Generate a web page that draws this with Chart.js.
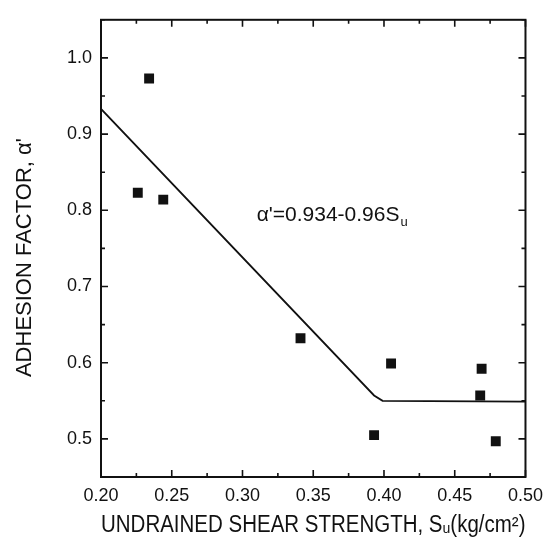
<!DOCTYPE html>
<html>
<head>
<meta charset="utf-8">
<script src="https://cdn.jsdelivr.net/npm/chart.js@4"></script>
<style>
html, body { margin: 0; padding: 0; background: #fff; }
#wrap { width: 551px; height: 549px; }
</style>
</head>
<body>
<div id="wrap"><canvas id="c" width="551" height="549"></canvas></div>
<script>
// measured points
const suValues = [0.226, 0.234, 0.244, 0.341, 0.393, 0.405, 0.468, 0.469, 0.479]
const alphaValues = [0.823, 0.973, 0.814, 0.632, 0.505, 0.599, 0.557, 0.592, 0.497]

// fitted line (bilinear)
const fitSu = [0.20, 0.393, 0.399, 0.50]
const fitAlpha = [0.933, 0.557, 0.550, 0.549]

const xTicks = [0.20, 0.25, 0.30, 0.35, 0.40, 0.45, 0.50]
const yTicks = [0.5, 0.6, 0.7, 0.8, 0.9, 1.0]

const eqPos = { x: 0.310, y: 0.794 }

const FONT = "'Liberation Sans', Arial, sans-serif"
const ink = "#111"

const points = suValues.map((v, i) => ({ x: v, y: alphaValues[i] }))
const fitLine = fitSu.map((v, i) => ({ x: v, y: fitAlpha[i] }))

// frame + inward ticks
const frameTicks = {
  id: 'frameTicks',
  afterDraw(chart) {
    const ctx = chart.ctx
    const a = chart.chartArea
    const xs = chart.scales.x, ys = chart.scales.y
    ctx.save()
    ctx.strokeStyle = ink
    ctx.lineWidth = 2
    ctx.strokeRect(a.left, a.top, a.right - a.left, a.bottom - a.top)
    ctx.lineWidth = 1.6
    ctx.beginPath()
    for (let v = 0.20; v <= 0.5001; v += 0.025) {
      const major = Math.abs(Math.round(v / 0.05) * 0.05 - v) < 1e-6
      const len = major ? 7 : 4
      const px = xs.getPixelForValue(v)
      ctx.moveTo(px, a.bottom); ctx.lineTo(px, a.bottom - len)
      ctx.moveTo(px, a.top); ctx.lineTo(px, a.top + len)
    }
    for (let v = 0.45; v <= 1.0501; v += 0.05) {
      const major = Math.abs(Math.round(v * 10) / 10 - v) < 1e-6
      const len = major ? 7 : 4
      const py = ys.getPixelForValue(v)
      ctx.moveTo(a.left, py); ctx.lineTo(a.left + len, py)
      ctx.moveTo(a.right, py); ctx.lineTo(a.right - len, py)
    }
    ctx.stroke()

    // equation label
    const ex = xs.getPixelForValue(eqPos.x)
    const ey = ys.getPixelForValue(eqPos.y)
    ctx.fillStyle = ink
    ctx.textBaseline = 'middle'
    ctx.textAlign = 'left'
    ctx.font = '21px ' + FONT
    const main = "\u03b1'=0.934-0.96S"
    ctx.fillText(main, ex, ey)
    const w = ctx.measureText(main).width
    ctx.font = '13px ' + FONT
    ctx.fillText('u', ex + w + 1, ey + 8)
    ctx.restore()
  }
}

new Chart(document.getElementById('c'), {
  type: 'scatter',
  data: {
    datasets: [
      {
        label: 'fit',
        type: 'line',
        data: fitLine,
        borderColor: ink,
        borderWidth: 1.8,
        pointRadius: 0,
        fill: false,
        tension: 0
      },
      {
        label: 'data',
        data: points,
        pointStyle: 'rect',
        pointRadius: 7,
        pointHoverRadius: 7,
        backgroundColor: ink,
        borderColor: ink,
        borderWidth: 0
      }
    ]
  },
  options: {
    responsive: false,
    animation: false,
    devicePixelRatio: 1,
    layout: { padding: { top: 15, right: 23, left: 0, bottom: 0 } },
    plugins: { legend: { display: false }, tooltip: { enabled: false } },
    scales: {
      x: {
        type: 'linear',
        min: 0.20,
        max: 0.50,
        afterBuildTicks: s => { s.ticks = xTicks.map(v => ({ value: v })) },
        afterFit: s => { s.height = 72 },
        grid: { display: false, drawTicks: false },
        border: { display: false },
        ticks: {
          color: ink,
          padding: 8,
          maxRotation: 0,
          font: { family: FONT, size: 18 },
          callback: v => v.toFixed(2)
        },
        title: {
          display: true,
          text: 'UNDRAINED SHEAR STRENGTH, S\u1d64(kg/cm\u00b2)',
          color: ink,
          font: { family: FONT, size: 23 },
          padding: { top: 0, bottom: 10 }
        }
      },
      y: {
        type: 'linear',
        min: 0.45,
        max: 1.05,
        afterBuildTicks: s => { s.ticks = yTicks.map(v => ({ value: v })) },
        afterFit: s => { s.width = 101 },
        grid: { display: false, drawTicks: false },
        border: { display: false },
        ticks: {
          color: ink,
          padding: 9,
          font: { family: FONT, size: 18 },
          callback: v => v.toFixed(1)
        },
        title: {
          display: true,
          text: "ADHESION FACTOR, \u03b1'   ",
          color: ink,
          font: { family: FONT, size: 22 },
          padding: { top: 12, bottom: 0 }
        }
      }
    }
  },
  plugins: [frameTicks]
})
</script>
</body>
</html>
